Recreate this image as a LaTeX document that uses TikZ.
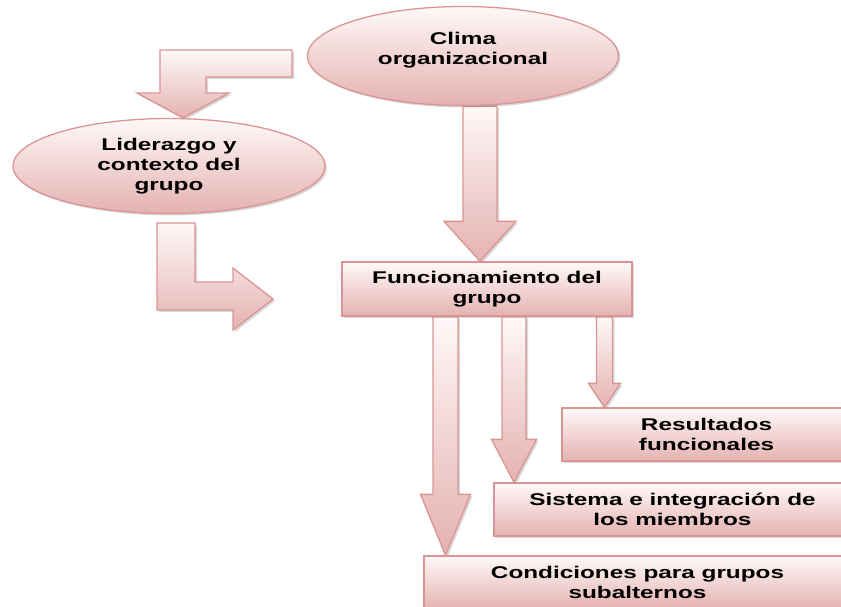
\documentclass[tikz,border=0pt]{standalone}
\usepackage{fontspec}
\setmainfont{Liberation Sans}[FakeStretch=1.43]
\usetikzlibrary{calc,shadows,shapes.geometric,backgrounds}
\definecolor{edge}{HTML}{D99594}
\definecolor{pinkbot}{HTML}{E4B2B1}
\definecolor{pinktop}{HTML}{FFF8F8}
\newcommand\vblock[6]{%
  \path (#1,0) coordinate (tmpx);
  \draw[blockarrow]
    ($(tmpx |- #2)+(-#4,0)$) -- ($(tmpx |- #2)+(#4,0)$)
    -- ($(tmpx |- #3)+(#4,-#6)$) -- ($(tmpx |- #3)+(#5,-#6)$)
    -- (tmpx |- #3) -- ($(tmpx |- #3)+(-#5,-#6)$)
    -- ($(tmpx |- #3)+(-#4,-#6)$) -- cycle;}
\begin{document}
\begin{tikzpicture}[x=1pt,y=-1pt,
  shade3d/.style={draw=edge, line width=1.3pt, top color=pinktop, bottom color=pinkbot,
    drop shadow={shadow xshift=2pt,shadow yshift=-2pt,opacity=0.3,fill=gray}},
  txt/.style={font=\fontsize{17}{20}\selectfont\bfseries, text=black, align=center},
  oval/.style={shade3d, txt, ellipse, inner sep=0pt},
  box/.style={shade3d, txt, rectangle, inner sep=0pt},
  blockarrow/.style={shade3d, line join=miter}
]
\useasboundingbox (0,0) rectangle (841,607);

\node[oval, minimum width=311pt, minimum height=99pt, text depth=15pt] (clima) at (463,56) {Clima\\organizacional};
\node[oval, minimum width=312pt, minimum height=95pt] (lider) at (169,166) {Liderazgo y\\contexto del\\grupo};
\node[box, minimum width=290pt, minimum height=54pt] (func) at (487,289) {Funcionamiento del\\grupo};
\node[box, minimum width=289pt, minimum height=53pt] (res) at (706.5,434.5) {Resultados\\funcionales};
\node[box, minimum width=357pt, minimum height=53pt] (sis) at (672.5,509.5) {Sistema e integración de\\los miembros};
\node[box, minimum width=427pt, minimum height=53pt] (cond) at (637.5,582.5) {Condiciones para grupos\\subalternos};

\coordinate (ta) at (292,50);
\coordinate (tx) at (183,0);
\coordinate (ba) at (157,223);
\coordinate (bt) at (273,299);

\begin{pgfonlayer}{background}
\vblock{480}{clima.south}{func.north}{17}{36}{40}
\vblock{445.5}{func.south}{cond.north}{12.5}{25}{61}
\vblock{514}{func.south}{sis.north}{12}{22.5}{43}
\vblock{604.5}{func.south}{res.north}{8}{16}{24}
\draw[blockarrow] (ta) -- (160,50) -- (160,93) -- (137,93) -- (tx |- lider.north)
  -- (229,93) -- (206,93) -- (206,77) -- (292,77) -- cycle;
\draw[blockarrow] (ba) -- (195,223) -- (195,282) -- (233,282) -- (233,268) -- (bt)
  -- (233,330) -- (233,310) -- (157,310) -- cycle;
\end{pgfonlayer}
\end{tikzpicture}
\end{document}
